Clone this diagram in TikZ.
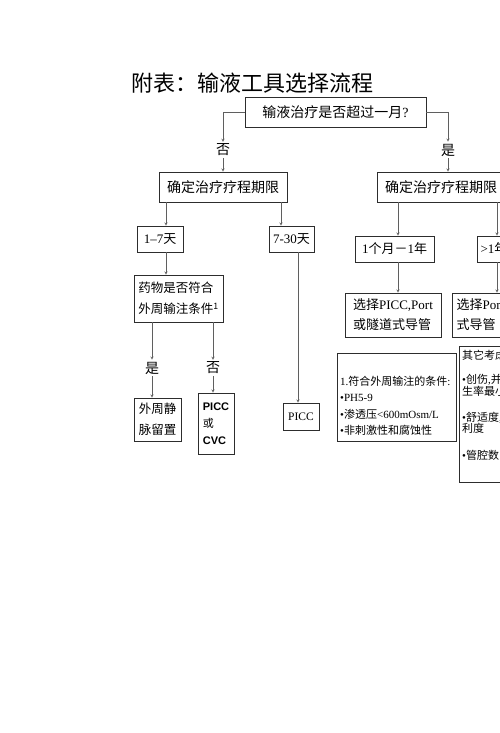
\documentclass[tikz,border=0pt]{standalone}
\usepackage{fontspec}
\setmainfont{Noto Sans CJK SC}
\newfontfamily\latinfont{Liberation Serif}
\newfontfamily\arialfont{Liberation Sans}
\usepackage{xcolor}
\usetikzlibrary{arrows, positioning}
\definecolor{flowline}{RGB}{95, 95, 95}
\definecolor{flowbox}{RGB}{45, 45, 45}
\newcommand{\dotmark}{{\latinfont •}}

\begin{document}
\begin{tikzpicture}[
    x=1pt, y=-1pt,
    box/.style={
        rectangle,
        draw=flowbox,
        line width=0.9pt,
        fill=white,
        inner sep=3pt,
        font=\fontsize{14}{18}\selectfont
    },
    smallbox/.style={
        box,
        minimum height=26,
        font=\fontsize{13}{16}\selectfont
    },
    answer/.style={
        inner sep=2pt,
        font=\fontsize{14}{16}\selectfont
    },
    arrow/.style={
        ->,
        >=stealth,
        thin,
        flowline
    },
    title/.style={
        font=\fontsize{22}{26}\selectfont
    },
    notetext/.style={
        anchor=north west,
        inner sep=0pt,
        align=left,
        font=\fontsize{11}{16.5}\selectfont
    }
]

% Background
\useasboundingbox (0,0) rectangle (500,733);
\clip (0,0) rectangle (500,733);
\fill[white] (0,0) rectangle (500,733);

% Title
\node[title] (title) at (252,83) {附表：输液工具选择流程};

% First question
\node[box, minimum width=181, minimum height=30] (query) at (335.5,112) {输液治疗是否超过一月{\latinfont ?}};
\node[answer] (no) at (223,150) {否};
\node[answer] (yes) at (448,150) {是};

% Duration of therapy
\node[box, minimum width=128, minimum height=30] (termL) at (223,187) {确定治疗疗程期限};
\node[box, minimum width=128, minimum height=30] (termR) at (441,187) {确定治疗疗程期限};

\node[smallbox, minimum width=46] (short) at (160,239) {{\latinfont 1–7}天};
\node[smallbox, minimum width=45] (mid) at (291.5,239) {{\latinfont 7-30}天};
\node[smallbox, minimum width=79] (month) at (394.5,249) {{\latinfont 1}个月－{\latinfont 1}年};
\node[smallbox] (year) at (494,249) {{\latinfont >1}年};

% Short therapy
\node[box, align=left, minimum width=89, minimum height=47, font=\fontsize{12.5}{21}\selectfont] (drug) at (178.5,298.5) {药物是否符合\\外周输注条件\textsuperscript{1}};
\node[answer] (ok) at (152,368) {是};
\node[answer] (notok) at (213,368) {否};
\node[box, align=left, minimum width=47, minimum height=43, font=\fontsize{12.5}{21}\selectfont] (vein) at (157.5,419.5) {外周静\\脉留置};
\node[box, align=left, minimum width=36, minimum height=61, font=\arialfont\bfseries\fontsize{11}{17}\selectfont] (central) at (216,423.5) {PICC\\{\normalfont 或}\\CVC};
\node[box, minimum width=36, minimum height=27, font=\latinfont\fontsize{11.5}{14}\selectfont] (picc) at (301,416.5) {PICC};

% Long therapy
\node[box, align=left, minimum width=96, minimum height=44, font=\fontsize{13}{20}\selectfont] (choiceA) at (393,315) {选择{\latinfont PICC,Port}\\或隧道式导管};
\node[box, align=left, minimum width=96, minimum height=44, font=\fontsize{13}{20}\selectfont] (choiceB) at (500,315) {选择{\latinfont Port}或隧道\\式导管};

% Notes
\node[box, minimum width=119, minimum height=88] (notes) at (396.5,397) {};
\node[notetext] (notestext) at (340,376) {{\latinfont 1.}符合外周输注的条件{\latinfont :}\\\dotmark{\latinfont PH5-9}\\\dotmark 渗透压{\latinfont <600mOsm/L}\\\dotmark 非刺激性和腐蚀性};
\node[box, minimum width=110, minimum height=136] (others) at (514,414) {};
\node[notetext, font=\fontsize{11}{11.5}\selectfont] (otherstext) at (462,350) {其它考虑：\\[12.5pt]\dotmark 创伤{\latinfont ,}并发症发\\生率最小\\[14.5pt]\dotmark 舒适度{\latinfont ,}便\\利度\\[15.5pt]\dotmark 管腔数目};

% Connections
\draw[arrow] (query.west) -| (no.north);
\draw[arrow] (no.south) -- (termL.north);
\draw[arrow] (query.east) -| (yes.north);
\draw[arrow] (yes.south) -- (yes.south |- termR.north);

\draw[arrow] ([xshift=-57]termL.south) -- ([xshift=6]short.north);
\draw[arrow] ([xshift=58]termL.south) -- ([xshift=-10.5]mid.north);
\draw[arrow] ([xshift=6]short.south) -- ([xshift=-12.5]drug.north);
\draw[arrow] ([xshift=-26.5]drug.south) -- (ok.north);
\draw[arrow] (ok.south) -- ([xshift=-5.5]vein.north);
\draw[arrow] ([xshift=34.5]drug.south) -- (notok.north);
\draw[arrow] (notok.south) -- ([xshift=-3]central.north);
\draw[arrow] ([xshift=6.5]mid.south) -- ([xshift=-3]picc.north);

\draw[arrow] ([xshift=-43]termR.south) -- ([xshift=3.5]month.north);
\draw[arrow] ([xshift=56]termR.south) -- ([xshift=3]year.north);
\draw[arrow] ([xshift=3.5]month.south) -- ([xshift=5]choiceA.north);
\draw[arrow] ([xshift=3]year.south) -- ([xshift=-3]choiceB.north);

\end{tikzpicture}
\end{document}
